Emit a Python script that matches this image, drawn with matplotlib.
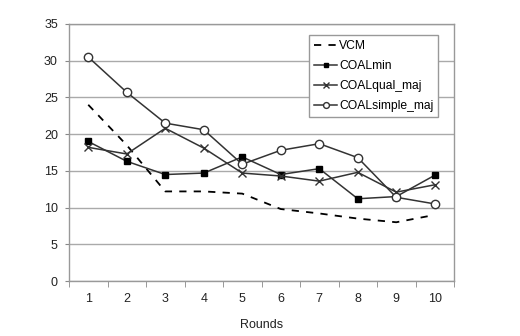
import matplotlib
matplotlib.use("Agg")
import matplotlib.pyplot as plt
from matplotlib.ticker import FixedLocator

plt.rcParams['font.family'] = ['Liberation Sans', 'DejaVu Sans']

rounds = [1, 2, 3, 4, 5, 6, 7, 8, 9, 10]
vcm = [24.0, 18.5, 12.2, 12.2, 11.9, 9.8, 9.2, 8.5, 8.0, 9.0]
coal_min = [19.0, 16.3, 14.5, 14.7, 16.9, 14.5, 15.3, 11.2, 11.5, 14.4]
coal_qual_maj = [18.2, 17.3, 20.8, 18.1, 14.7, 14.3, 13.6, 14.8, 12.1, 13.1]
coal_simple_maj = [30.5, 25.7, 21.5, 20.6, 15.9, 17.8, 18.7, 16.8, 11.4, 10.5]
y_ticks = [0, 5, 10, 15, 20, 25, 30, 35]

fig = plt.figure(figsize=(5.2, 3.36), dpi=100)
ax = fig.add_axes([69/520, 1-281/336, (454-69)/520, (281-24)/336])

lc = '#333333'
ax.plot(rounds, vcm, color='black', linestyle=(0, (4, 4)), linewidth=1.3, label='VCM')
ax.plot(rounds, coal_min, color=lc, linewidth=1.1, marker='s', markersize=5,
        markerfacecolor='black', markeredgecolor='black', label='COALmin')
ax.plot(rounds, coal_qual_maj, color=lc, linewidth=1.1, marker='x', markersize=6,
        markeredgecolor=lc, label='COALqual_maj')
ax.plot(rounds, coal_simple_maj, color=lc, linewidth=1.1, marker='o', markersize=6,
        markerfacecolor='white', markeredgecolor=lc, label='COALsimple_maj')

ax.set_xlim(0.5, 10.5)
ax.set_ylim(0, 35)
ax.set_yticks(y_ticks)
ax.set_xticks(rounds)
ax.xaxis.set_minor_locator(FixedLocator([r + 0.5 for r in [0] + rounds]))
ax.tick_params(axis='x', which='major', length=0, pad=9, labelsize=9, labelcolor='#222222')
ax.tick_params(axis='x', which='minor', length=4, color='#888888', direction='out')
ax.tick_params(axis='y', length=3, color='#888888', labelsize=9, labelcolor='#222222', pad=5)

ax.grid(axis='y', color='#aaaaaa', linewidth=1.0)
ax.set_axisbelow(True)
for s in ax.spines.values():
    s.set_color('#999999')
    s.set_linewidth(1.0)

ax.set_xlabel('Rounds', fontsize=9, color='#222222', labelpad=10)

leg = ax.legend(loc='upper right', bbox_to_anchor=(438/520, 1-35/336), bbox_transform=fig.transFigure,
                fontsize=8.7, handlelength=1.9, handletextpad=0.15, borderpad=0.4,
                labelspacing=0.68, markerscale=0.7, fancybox=False, framealpha=1,
                edgecolor='#999999', borderaxespad=0)
leg.get_frame().set_linewidth(1.0)

fig.savefig('out.png', dpi=100)
